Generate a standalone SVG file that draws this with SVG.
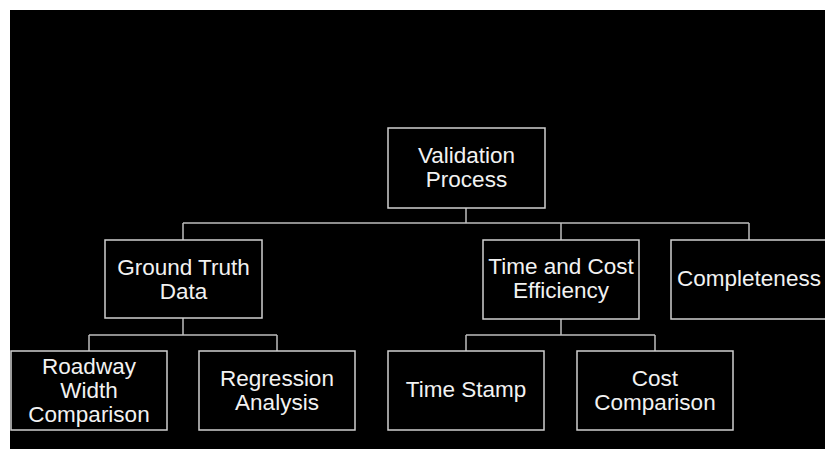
<svg xmlns="http://www.w3.org/2000/svg" width="825" height="449" viewBox="0 0 825 449">
<style>
.box{fill:#000;stroke:#cfcfcf;stroke-width:1.5}
.t{fill:#f2f2f2;font-family:"Liberation Sans",Arial,sans-serif;font-size:22.5px;text-anchor:middle}
.c{fill:none;stroke:#bdbdbd;stroke-width:1.5}
</style>
<rect x="0" y="0" width="825" height="449" fill="#fff"/>
<rect x="10" y="10" width="815" height="439" fill="#000"/>
<g id="connectors">
<path class="c" d="M466 208V223M183 223H749M183 223V240M561 223V240M749 223V240"/>
<path class="c" d="M183 318V335M89 335H277M89 335V351M277 335V351"/>
<path class="c" d="M561 319V335M466 335H655M466 335V351M655 335V351"/>
</g>
<g id="validation"><rect class="box" x="388" y="128" width="157" height="80"/><text class="t" x="466.5" y="162.5">Validation</text><text class="t" x="466.5" y="186.5">Process</text></g>
<g id="ground"><rect class="box" x="105" y="240" width="157" height="78"/><text class="t" x="183.5" y="274.5">Ground Truth</text><text class="t" x="183.5" y="298.5">Data</text></g>
<g id="timecost"><rect class="box" x="483" y="240" width="156" height="79"/><text class="t" x="561" y="273.5">Time and Cost</text><text class="t" x="561" y="297.5">Efficiency</text></g>
<g id="completeness"><rect class="box" x="671" y="240" width="156" height="79"/><text class="t" x="749" y="286">Completeness</text></g>
<g id="roadway"><rect class="box" x="11" y="351" width="156" height="79"/><text class="t" x="89" y="374">Roadway</text><text class="t" x="89" y="398">Width</text><text class="t" x="89" y="422">Comparison</text></g>
<g id="regression"><rect class="box" x="199" y="351" width="156" height="79"/><text class="t" x="277" y="385.5">Regression</text><text class="t" x="277" y="409.5">Analysis</text></g>
<g id="timestamp"><rect class="box" x="388" y="351" width="156" height="79"/><text class="t" x="466" y="397">Time Stamp</text></g>
<g id="cost"><rect class="box" x="577" y="351" width="156" height="79"/><text class="t" x="655" y="385.5">Cost</text><text class="t" x="655" y="409.5">Comparison</text></g>
</svg>
